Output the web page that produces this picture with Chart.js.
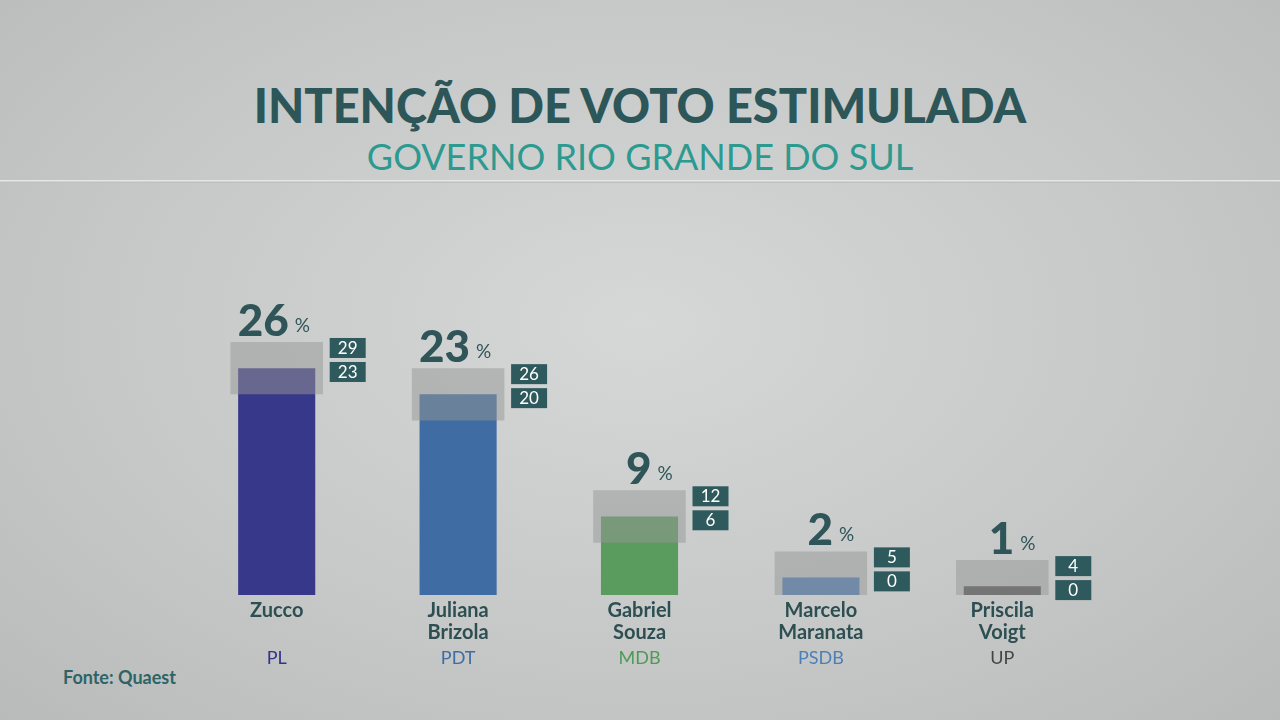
<!DOCTYPE html>
<html><head><meta charset="utf-8">
<script src="https://cdn.jsdelivr.net/npm/chart.js@4/dist/chart.umd.min.js"></script>
<style>
body{margin:0;width:1280px;height:720px;overflow:hidden;font-family:Lato,"Open Sans",sans-serif;
 background:radial-gradient(ellipse at 50% 45%,#d6d8d8 0%,#c6c8c8 60%,#b9bbbb 100%);}
#t1{position:absolute;top:77px;width:100%;text-align:center;font:900 47px Lato;color:#2d5659;letter-spacing:0px}
#t2{position:absolute;top:134px;width:100%;text-align:center;font:400 36px Lato;color:#2d9a90}
#rule{position:absolute;top:180px;left:0;width:100%;height:3px;background:linear-gradient(#eef0f0,#b5b7b7)}
#src{position:absolute;left:63px;top:666px;font:700 18px Lato;color:#2d6466}
canvas{position:absolute;left:0;top:0}
</style></head><body>
<div id="t1">INTENÇÃO DE VOTO ESTIMULADA</div>
<div id="t2">GOVERNO RIO GRANDE DO SUL</div>
<div id="rule"></div>
<div id="src">Fonte: Quaest</div>
<canvas id="c" width="1280" height="720"></canvas>
<script>
const nomes = [['Zucco'],['Juliana','Brizola'],['Gabriel','Souza'],['Marcelo','Maranata'],['Priscila','Voigt']];
const partidos = ['PL','PDT','MDB','PSDB','UP'];
const valores = [26,23,9,2,1];
const maximos = [29,26,12,5,4];
const minimos = [23,20,6,0,0];
const cores = ['#38388a','#3e6ca3','#5a9c5e','#4c7fb8','#555555'];
const coresPartido = ['#33338a','#3e6ca3','#4f9a55','#4c7fb8','#444444'];

const rotulos = {
  id:'rotulos',
  afterDatasetsDraw(chart){
    const ctx = chart.ctx, x = chart.scales.x, y = chart.scales.y;
    valores.forEach((v,i)=>{
      const cx = x.getPixelForValue(i);
      const top = y.getPixelForValue(maximos[i]);
      // valor
      ctx.fillStyle = '#2f5558';
      ctx.font = '900 44px Lato';
      ctx.textAlign = 'right'; ctx.textBaseline = 'alphabetic';
      ctx.fillText(String(v), cx+12, top-6);
      ctx.font = '400 19px Lato'; ctx.textAlign = 'left';
      ctx.fillText('%', cx+18, top-10);
      // caixas margem
      [maximos[i],minimos[i]].forEach((m,k)=>{
        const by = top-4+k*24;
        ctx.fillStyle = '#2f5a5d';
        ctx.fillRect(cx+53, by, 36, 20);
        ctx.fillStyle = '#ffffff';
        ctx.font = '400 17px Lato'; ctx.textAlign = 'center'; ctx.textBaseline = 'middle';
        ctx.fillText(String(m), cx+71, by+10.5);
      });
      // nomes
      ctx.fillStyle = '#2e4f52'; ctx.font = '700 20px Lato'; ctx.textAlign='center'; ctx.textBaseline='middle';
      nomes[i].forEach((n,k)=>ctx.fillText(n, cx, 611+k*22));
      ctx.fillStyle = coresPartido[i]; ctx.font = '400 18px Lato';
      ctx.fillText(partidos[i], cx, 658);
    });
  }
};

new Chart(document.getElementById('c'), {
  type:'bar',
  data:{
    labels: nomes.map(n=>n.join(' ')),
    datasets:[
      {data: minimos.map((m,i)=>[m,maximos[i]]), backgroundColor:'rgba(150,150,150,0.5)',
       barPercentage:0.51, categoryPercentage:1, grouped:false, order:0},
      {data: valores, backgroundColor: cores, barPercentage:0.425, categoryPercentage:1, grouped:false, order:1}
    ]
  },
  options:{
    responsive:false, animation:false,
    layout:{padding:{left:186,right:187,top:246,bottom:125}},
    plugins:{legend:{display:false},tooltip:{enabled:false}},
    scales:{
      x:{display:false},
      y:{display:false,min:0,max:40}
    }
  },
  plugins:[rotulos]
});
</script>
</body></html>
